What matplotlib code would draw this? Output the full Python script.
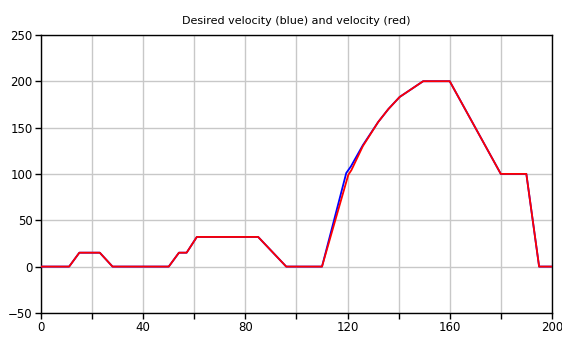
import matplotlib
matplotlib.use("Agg")
import matplotlib.pyplot as plt
import numpy as np

t_des = [0, 11, 15, 23, 28, 50, 54, 57, 61, 85, 96, 110, 119.5, 121.3, 126, 132, 136, 140.4, 149.6, 160, 180, 190, 195, 200]
v_des = [0, 0, 15, 15, 0, 0, 15, 15, 32, 32, 0, 0, 101, 108, 131, 156, 170, 183, 200, 200, 100, 100, 0, 0]
t_vel = [0, 11, 15, 23, 28, 50, 54, 57, 61, 85, 96, 110, 120.3, 121.5, 126, 132, 136, 140.4, 149.6, 160, 180, 190, 195, 200]
v_vel = [0, 0, 15, 15, 0, 0, 15, 15, 32, 32, 0, 0, 99, 104, 130, 156, 170, 183, 200, 200, 100, 100, 0, 0]

plt.rcParams['font.family'] = ['DejaVu Sans']
fig = plt.figure(figsize=(5.62, 3.42), dpi=100)
ax = fig.add_axes([0.073, 0.085, 0.909, 0.813])

ax.plot(t_des, v_des, color='#0000ff', lw=1.3, zorder=3)
ax.plot(t_vel, v_vel, color='#ff0000', lw=1.3, zorder=4)

ax.set_xlim(0, 200)
ax.set_ylim(-50, 250)
ax.set_xticks(np.arange(0, 201, 40))
ax.set_xticks(np.arange(20, 200, 40), minor=True)
ax.set_yticks(np.arange(-50, 251, 50))
ax.grid(True, which='both', color='#c8c8c8', lw=1)
ax.set_axisbelow(True)
ax.tick_params(which='both', direction='out', length=4, width=1, color='black',
               labelsize=8.5, pad=2)
for s in ax.spines.values():
    s.set_color('black')
    s.set_linewidth(1)

ax.set_title('Desired velocity (blue) and velocity (red)', fontsize=8, pad=8)

fig.savefig('out.png', dpi=100)
